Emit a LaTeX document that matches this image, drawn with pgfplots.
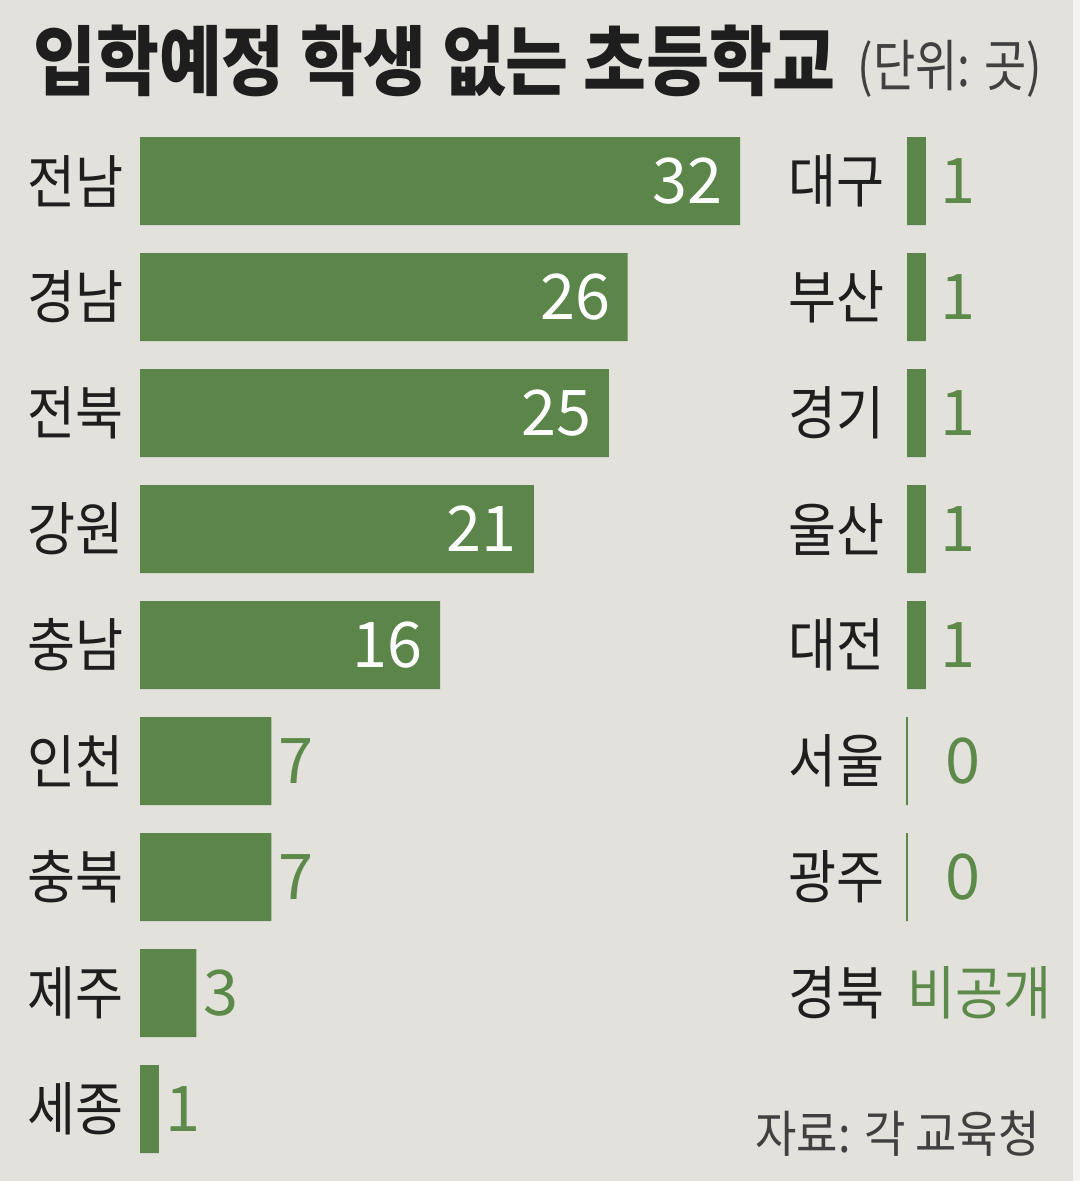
\documentclass[border=0pt]{standalone}
\usepackage{pgfplots}
\pgfplotsset{compat=1.18}
\usepackage{pgfplotstable}
\usepackage{fontspec}
\setmainfont{Noto Sans CJK KR}
\newfontfamily\krfont[FakeStretch=0.9]{Noto Sans CJK KR}
\newfontfamily\titlefont[FakeStretch=0.9]{Noto Sans CJK KR}
\newfontfamily\unitfont[FakeStretch=0.82]{Noto Sans CJK KR}
\newfontfamily\numfont{Noto Sans CJK KR}
\definecolor{bg}{HTML}{E2E1DC}
\definecolor{barg}{HTML}{5B8549}
\definecolor{txtg}{HTML}{5D8A4A}
\definecolor{txt}{HTML}{1E1E1E}

\pgfplotstableread{
y v
0 32
1 26
2 25
3 21
4 16
}\leftin
\pgfplotstableread{
y v
5 7
6 7
7 3
8 1
}\leftout
\pgfplotstableread{
y v
0 1
1 1
2 1
3 1
4 1
}\rightone
\pgfplotstableread{
y v
5 0
6 0
}\rightzero

\pgfplotsset{mybase/.style={
  xbar, bar shift=0pt, scale only axis, hide axis, clip=false,
  x=18.75pt, y=116pt, y dir=reverse,
  ymin=-0.5, ymax=8.5, enlargelimits=false,
  bar width=88pt, anchor=north west,
  nodes near coords={\pgfmathprintnumber[assume math mode=true]{\pgfplotspointmeta}},
}}

\begin{document}
\begin{tikzpicture}
\fill[bg] (0pt,0pt) rectangle (1080pt,1181pt);
\fill[white!60!bg] (1073pt,0pt) rectangle (1080pt,1181pt);

% title
\node[anchor=base west, inner sep=0, text=txt] at (33pt,1091pt)
  {\titlefont\bfseries\fontsize{76}{80}\selectfont 입학예정 학생 없는 초등학교};
\node[anchor=base east, inner sep=0, text=txt!85] at (1042pt,1094pt)
  {\unitfont\fontsize{56}{60}\selectfont (단위: 곳)};

% left column
\begin{axis}[mybase, at={(140pt,1058pt)}, xmin=0, xmax=32]
\addplot[fill=barg, draw=none,
  every node near coord/.append style={anchor=east, inner sep=0, xshift=-17pt, text=white, font=\numfont\fontsize{63}{64}\selectfont}]
  table[x=v, y=y] {\leftin};
\addplot[fill=barg, draw=none,
  every node near coord/.append style={anchor=west, inner sep=0, xshift=7pt, text=txtg, font=\numfont\fontsize{63}{64}\selectfont}]
  table[x=v, y=y] {\leftout};
\foreach \n/\l in {0/전남,1/경남,2/전북,3/강원,4/충남,5/인천,6/충북,7/제주,8/세종}{
  \edef\temp{\noexpand\node[anchor=east, inner sep=0, xshift=-16pt, text=txt, font=\noexpand\krfont\noexpand\fontsize{58}{60}\noexpand\selectfont] at (axis cs:0,\n) {\l};}
  \temp
}
\end{axis}

% right column
\begin{axis}[mybase, at={(907pt,1058pt)}, xmin=0, xmax=2]
\addplot[fill=barg, draw=none,
  every node near coord/.append style={anchor=west, inner sep=0, xshift=15pt, text=txtg, font=\numfont\fontsize{63}{64}\selectfont}]
  table[x=v, y=y] {\rightone};
\addplot[fill=barg, draw=barg, line width=2pt,
  every node near coord/.append style={anchor=west, inner sep=0, xshift=37pt, text=txtg, font=\numfont\fontsize{63}{64}\selectfont}]
  table[x=v, y=y] {\rightzero};
\foreach \n/\l in {0/대구,1/부산,2/경기,3/울산,4/대전,5/서울,6/광주,7/경북}{
  \edef\temp{\noexpand\node[anchor=east, inner sep=0, xshift=-22pt, text=txt, font=\noexpand\krfont\noexpand\fontsize{58}{60}\noexpand\selectfont] at (axis cs:0,\n) {\l};}
  \temp
}
\node[anchor=west, inner sep=0, xshift=0pt, text=txtg, font=\krfont\fontsize{58}{60}\selectfont] at (axis cs:0,7) {비공개};
\end{axis}

% source
\node[anchor=base east, inner sep=0, text=txt!85] at (1040pt,28pt)
  {\krfont\fontsize{50}{52}\selectfont 자료: 각 교육청};
\end{tikzpicture}
\end{document}
